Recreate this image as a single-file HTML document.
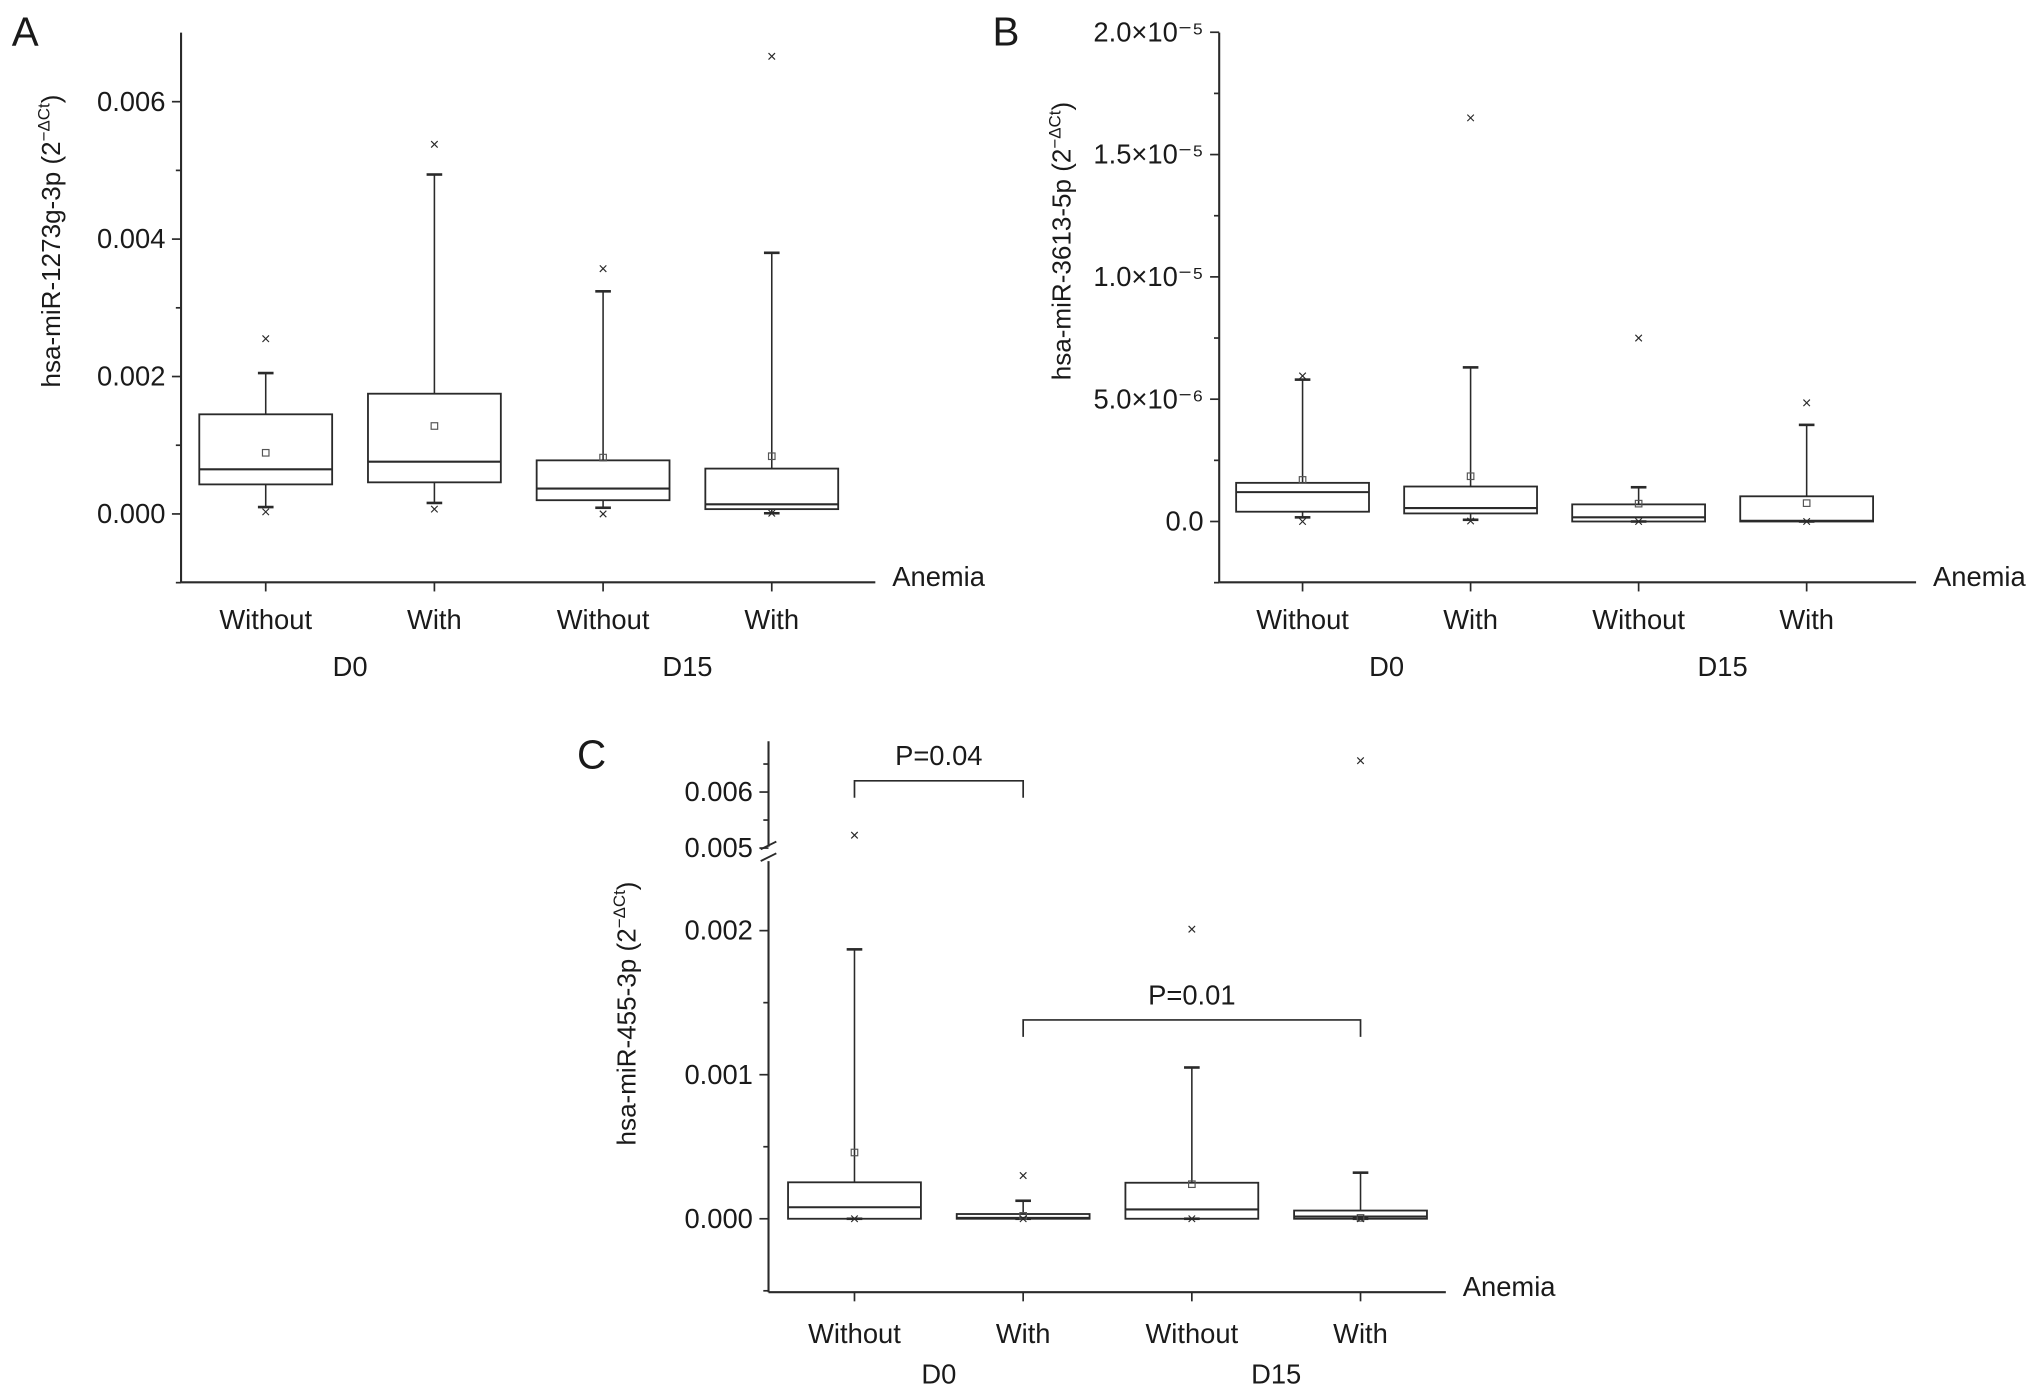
<!DOCTYPE html>
<html><head><meta charset="utf-8"><style>
html,body{margin:0;padding:0;background:#fff}
svg{display:block}
text{font-family:"Liberation Sans",sans-serif;fill:#1a1a1a}
</style></head><body>
<svg id="fig" width="2032" height="1390" viewBox="0 0 1560 1067" xmlns="http://www.w3.org/2000/svg">
<g id="layer"></g>
</svg>
<script>
// ---- data ----
const categories = ["Without","With","Without","With"];
const groups = ["D0","D15"];
// Panel A
const aQ3 = [0.00145,0.00175,0.00078,0.00066];
const aMed = [0.00065,0.00076,0.00037,0.00014];
const aQ1 = [0.00043,0.00046,0.00020,0.00007];
const aWhiHi = [0.00205,0.00494,0.00324,0.00380];
const aWhiLo = [0.00010,0.00016,0.00009,0.00001];
const aMean = [0.00089,0.00128,0.00082,0.00084];
const aOutHi = [0.00255,0.00538,0.00357,0.00666];
const aOutLo = [0.00003,0.00007,0.0,0.00001];
const aTicks = [0,0.002,0.004,0.006];
const aTickLabels = ["0.000","0.002","0.004","0.006"];
// Panel B (values in 1e-6)
const bQ3 = [1.58,1.43,0.70,1.03];
const bMed = [1.20,0.55,0.17,0.03];
const bQ1 = [0.40,0.33,0.0,0.0];
const bWhiHi = [5.8,6.3,1.4,3.95];
const bWhiLo = [0.17,0.07,0.0,0.0];
const bMean = [1.7,1.85,0.73,0.75];
const bOutHi = [5.95,16.5,7.5,4.85];
const bOutLo = [0.0,0.02,0.0,0.0];
const bTicks = [0,5,10,15,20];
const bTickLabels = ["0.0","5.0×10⁻⁶","1.0×10⁻⁵","1.5×10⁻⁵","2.0×10⁻⁵"];
// Panel C
const cQ3 = [0.000253,0.000033,0.00025,0.000057];
const cMed = [0.00008,0.000006,0.000065,0.000015];
const cQ1 = [0,0,0,0];
const cWhiHi = [0.00187,0.000125,0.00105,0.00032];
const cWhiLo = [0,0,0,0];
const cMean = [0.00046,0.00002,0.00024,0.000006];
const cOutHi = [0.00523,0.0003,0.00201,0.00656];
const cOutLo = [0,0,0,0];
const cTicks = [0,0.001,0.002,0.005,0.006];
const cTickLabels = ["0.000","0.001","0.002","0.005","0.006"];
const cBrackets = [[0,1,"P=0.04",0.0062],[1,3,"P=0.01",0.00138]];

const NS="http://www.w3.org/2000/svg";
const layer=document.getElementById('layer');
function el(tag,attrs,parent,txt){const e=document.createElementNS(NS,tag);for(const k in attrs)e.setAttribute(k,attrs[k]);if(txt!==undefined)e.textContent=txt;(parent||layer).appendChild(e);return e;}
function line(x1,y1,x2,y2,p,w){return el('line',{x1,y1,x2,y2,stroke:'#2a2a2a','stroke-width':w||1.3},p);}

function panel(cfg){
  const g=el('g',{});
  
  
  const xs=i=>cfg.x0+i*cfg.dx;
  const y=cfg.y;
  const ax=el('g',{},g);
  
  
  if(cfg.breakAxis){
    line(cfg.axX,cfg.top,cfg.axX,650,ax,1.6);
    line(cfg.axX,661,cfg.axX,cfg.bottom,ax,1.6);
    line(cfg.axX-6,652,cfg.axX+6,646,ax,1.4);
    line(cfg.axX-6,661,cfg.axX+6,655,ax,1.4);
  } else line(cfg.axX,cfg.top,cfg.axX,cfg.bottom,ax,1.6);
  cfg.minor.forEach(v=>line(cfg.axX-4,y(v),cfg.axX,y(v),ax));
  cfg.ticks.forEach((v,i)=>{
    line(cfg.axX-7,y(v),cfg.axX,y(v),ax);
    const t=el('text',{x:cfg.axX-12,y:y(v)+7,'text-anchor':'end','font-size':21},ax,cfg.tickLabels[i]);
    
    
  });
  const xa=el('g',{},g);
  
  
  line(cfg.axX,cfg.bottom,cfg.xEnd,cfg.bottom,xa,1.6);
  categories.forEach((c,i)=>{
    line(xs(i),cfg.bottom,xs(i),cfg.bottom+7,xa);
    const t=el('text',{x:xs(i),y:cfg.bottom+cfg.catOff,'text-anchor':'middle','font-size':21},xa,c);
    
    
  });
  groups.forEach((gr,i)=>{
    const t=el('text',{x:(xs(2*i)+xs(2*i+1))/2,y:cfg.bottom+cfg.grpOff,'text-anchor':'middle','font-size':21},xa,gr);
    
    
  });
  const an=el('text',{x:cfg.xEnd+13,y:cfg.bottom+3,'font-size':21},xa,'Anemia');
  
  
  const yt=el('text',{transform:`translate(${cfg.ytX},${cfg.ytY}) rotate(-90)`,'text-anchor':'middle','font-size':20},g);
  
  
  el('tspan',{},yt,cfg.ytitle+' (2');
  el('tspan',{'font-size':13,dy:-8},yt,'−ΔCt');
  el('tspan',{dy:8},yt,')');
  const pl=el('text',{x:cfg.letter[0],y:cfg.letter[1],'font-size':31},g,cfg.letterTxt);
  
  
  const d=cfg.data, hw=51;
  for(let i=0;i<4;i++){
    const bg=el('g',{},g);
    
    
    const x=xs(i);
    line(x,y(d.q3[i]),x,y(d.hi[i]),bg,1.2);
    line(x-6,y(d.hi[i]),x+6,y(d.hi[i]),bg,2);
    line(x,y(d.q1[i]),x,y(d.lo[i]),bg,1.2);
    line(x-6,y(d.lo[i]),x+6,y(d.lo[i]),bg,2);
    el('rect',{x:x-hw,y:y(d.q3[i]),width:2*hw,height:Math.max(1,y(d.q1[i])-y(d.q3[i])),fill:'none',stroke:'#2a2a2a','stroke-width':1.4},bg);
    line(x-hw,y(d.med[i]),x+hw,y(d.med[i]),bg,1.6);
    el('rect',{x:x-2.5,y:y(d.mean[i])-2.5,width:5,height:5,fill:'none',stroke:'#555','stroke-width':0.9},bg);
    [d.oh[i],d.ol[i]].forEach(v=>{const yy=y(v);line(x-2.5,yy-2.5,x+2.5,yy+2.5,bg,0.9);line(x-2.5,yy+2.5,x+2.5,yy-2.5,bg,0.9);});
  }
  return {g,xs,y};
}

const yA=v=>394.5-v/0.002*105.5;
panel({name:'panel-a',axX:139,top:25,bottom:447,xEnd:672,x0:204,dx:129.5,y:yA,catOff:36,grpOff:72,
  ticks:aTicks,tickLabels:aTickLabels,minor:[-0.001,0.001,0.003,0.005],
  data:{q3:aQ3,med:aMed,q1:aQ1,hi:aWhiHi,lo:aWhiLo,mean:aMean,oh:aOutHi,ol:aOutLo},
  ytitle:'hsa-miR-1273g-3p',ytX:46,ytY:185,letter:[9,35],letterTxt:'A'});

const yB=v=>400.3-v/5*93.9;
panel({name:'panel-b',axX:936,top:25,bottom:447,xEnd:1471,x0:1000,dx:129,y:yB,catOff:36,grpOff:72,
  ticks:bTicks,tickLabels:bTickLabels,minor:[-2.5,2.5,7.5,12.5,17.5],
  data:{q3:bQ3,med:bMed,q1:bQ1,hi:bWhiHi,lo:bWhiLo,mean:bMean,oh:bOutHi,ol:bOutLo},
  ytitle:'hsa-miR-3613-5p',ytX:822,ytY:185,letter:[762,35],letterTxt:'B'});

const yC=v=>v>=0.0045?651-(v-0.005)/0.001*43:935.6-v/0.001*110.6;
const pc=panel({name:'panel-c',axX:590,top:569,bottom:992,xEnd:1110,x0:656,dx:129.5,y:yC,breakAxis:true,catOff:39,grpOff:70,
  ticks:cTicks,tickLabels:cTickLabels,minor:[-0.0005,0.0005,0.0015,0.0055,0.0065],
  data:{q3:cQ3,med:cMed,q1:cQ1,hi:cWhiHi,lo:cWhiLo,mean:cMean,oh:cOutHi,ol:cOutLo},
  ytitle:'hsa-miR-455-3p',ytX:488,ytY:778,letter:[443,590],letterTxt:'C'});

cBrackets.forEach(b=>{
  const bg=el('g',{},pc.g);
  
  
  const x1=pc.xs(b[0]),x2=pc.xs(b[1]),yy=yC(b[3]);
  el('polyline',{points:`${x1},${yy+13} ${x1},${yy} ${x2},${yy} ${x2},${yy+13}`,fill:'none',stroke:'#2a2a2a','stroke-width':1.3},bg);
  el('text',{x:(x1+x2)/2,y:yy-12,'text-anchor':'middle','font-size':21},bg,b[2]);
});
</script>
</body></html>
